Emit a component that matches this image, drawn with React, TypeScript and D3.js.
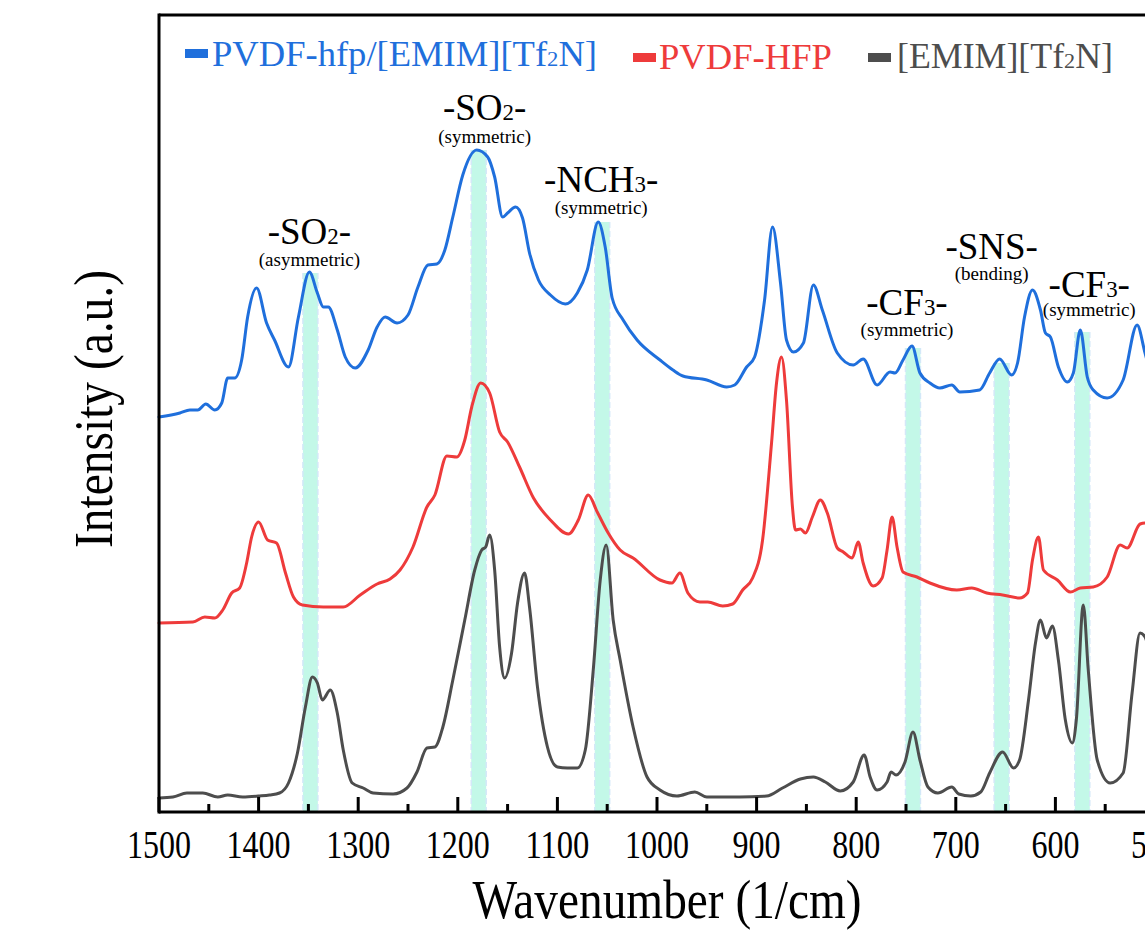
import React from "react";
import * as d3 from "d3";

// ---------- data ----------
const seriesNames = ["PVDF-hfp/[EMIM][Tf2N]", "PVDF-HFP", "[EMIM][Tf2N]"];
const seriesColors = ["#1f6fdc", "#ee3b3b", "#4d4d4d"];

// [wavenumber (1/cm), intensity (a.u., offset-stacked)]
const blueSpectrum: [number, number][] = [
  [1500, 395], [1479, 399], [1469, 402], [1461, 402], [1453, 408], [1444, 402], [1437, 409],
  [1431, 434], [1424, 434], [1417, 452], [1411, 495], [1402, 524], [1392, 489], [1384, 472],
  [1370, 445], [1360, 495], [1349, 540], [1341, 519], [1335, 505], [1330, 505], [1321, 482],
  [1313, 455], [1303, 444], [1290, 462], [1281, 485], [1273, 495], [1261, 489], [1250, 497],
  [1240, 525], [1230, 547], [1221, 548], [1213, 562], [1205, 595], [1195, 637], [1181, 662],
  [1170, 655], [1163, 635], [1155, 595], [1150, 599], [1142, 605], [1135, 594], [1128, 559],
  [1119, 532], [1107, 517], [1092, 508], [1080, 519], [1070, 542], [1059, 590], [1052, 565],
  [1045, 514], [1034, 492], [1020, 472], [997, 452], [984, 442], [974, 436], [950, 432],
  [930, 425], [922, 427], [910, 445], [902, 455], [892, 512], [884, 585], [876, 529],
  [870, 472], [863, 460], [853, 469], [843, 527], [834, 502], [819, 459], [803, 447],
  [793, 453], [779, 427], [766, 440], [761, 439], [753, 452], [744, 466], [736, 439],
  [726, 429], [716, 424], [704, 427], [696, 420], [676, 422], [666, 439], [656, 453],
  [644, 437], [638, 449], [631, 495], [623, 522], [615, 502], [610, 479], [605, 475],
  [597, 445], [588, 430], [582, 439], [575, 482], [568, 435], [562, 422], [548, 414],
  [532, 432], [518, 487], [510, 459], [505, 440], [500, 420],
];

const redSpectrum: [number, number][] = [
  [1500, 189], [1466, 190], [1454, 195], [1444, 194], [1436, 202], [1427, 219], [1419, 224],
  [1412, 249], [1407, 275], [1400, 290], [1391, 272], [1382, 269], [1373, 239], [1365, 215],
  [1356, 207], [1335, 205], [1315, 205], [1298, 217], [1281, 228], [1268, 233], [1258, 242],
  [1245, 265], [1231, 305], [1223, 317], [1211, 356], [1201, 355], [1193, 372], [1186, 405],
  [1177, 429], [1168, 419], [1158, 380], [1150, 370], [1138, 345], [1124, 314], [1107, 292],
  [1089, 278], [1079, 292], [1069, 317], [1060, 300], [1049, 279], [1037, 262], [1024, 254],
  [997, 232], [985, 229], [977, 239], [969, 219], [957, 210], [949, 210], [934, 206],
  [924, 208], [914, 222], [904, 234], [894, 272], [885, 369], [880, 429], [875, 455],
  [870, 412], [864, 305], [861, 282], [856, 283], [851, 279], [844, 295], [836, 312],
  [829, 299], [819, 264], [813, 260], [804, 254], [798, 270], [793, 249], [783, 226],
  [774, 234], [769, 262], [764, 295], [759, 265], [753, 240], [739, 235], [726, 229],
  [699, 222], [684, 224], [669, 219], [653, 217], [636, 214], [628, 219], [623, 252],
  [617, 275], [612, 242], [598, 232], [585, 220], [575, 224], [562, 225], [548, 235],
  [535, 267], [528, 264], [515, 288], [510, 289], [500, 285],
];

const graySpectrum: [number, number][] = [
  [1500, 14], [1486, 15], [1472, 19], [1456, 19], [1441, 15], [1431, 17], [1416, 15],
  [1399, 16], [1389, 17], [1379, 19], [1370, 29], [1361, 59], [1353, 105], [1346, 135],
  [1341, 129], [1336, 112], [1328, 122], [1321, 99], [1315, 62], [1306, 29], [1295, 24],
  [1285, 19], [1265, 18], [1251, 24], [1241, 40], [1231, 64], [1223, 65], [1215, 85],
  [1205, 132], [1193, 192], [1183, 242], [1176, 262], [1172, 265], [1168, 277], [1163, 242],
  [1158, 165], [1153, 134], [1146, 159], [1140, 209], [1133, 239], [1128, 205], [1120, 125],
  [1110, 65], [1100, 45], [1090, 44], [1080, 44], [1072, 62], [1064, 142], [1057, 232],
  [1051, 267], [1044, 192], [1037, 152], [1024, 85], [1010, 35], [997, 22], [980, 16],
  [962, 20], [950, 15], [917, 15], [890, 16], [874, 24], [856, 33], [843, 35], [831, 30],
  [816, 21], [803, 30], [792, 57], [786, 35], [779, 22], [769, 30], [765, 40], [760, 37],
  [751, 50], [743, 80], [736, 52], [728, 25], [718, 19], [704, 25], [697, 18], [685, 16],
  [675, 20], [666, 39], [653, 60], [642, 44], [636, 52], [627, 112], [620, 169], [615, 192],
  [609, 174], [603, 186], [597, 152], [590, 92], [583, 69], [579, 92], [572, 207],
  [567, 142], [558, 52], [545, 29], [532, 39], [523, 119], [515, 179], [510, 175], [500, 120],
];

// highlighted bands: center wavenumber, top (intensity)
const bandCenters = [1348, 1179, 1055, 743, 654, 573];
const bandTops = [539, 662, 590, 464, 449, 480];
const bandWidth = 15;

// peak annotations
const annoMain = ["-SO|2|-", "-SO|2|-", "-NCH|3|-", "-CF|3|-", "-SNS-", "-CF|3|-"];
const annoSub = ["(asymmetric)", "(symmetric)", "(symmetric)", "(symmetric)", "(bending)", "(symmetric)"];
const annoWn = [1349, 1173, 1056, 749, 664, 566];
const annoMainY = [568, 692, 620, 497, 553, 515];
const annoSubY = [546, 669, 598, 476, 532, 496];

const xTicksMajor = [1500, 1400, 1300, 1200, 1100, 1000, 900, 800, 700, 600, 500];
const xTicksMinor = [1450, 1350, 1250, 1150, 1050, 950, 850, 750, 650, 550];

const FONT = "'Liberation Serif', 'Times New Roman', serif";

function SubText({ s }: { s: string }) {
  const parts = s.split("|");
  return (
    <>
      {parts.map((p, i) =>
        i % 2 === 1 ? (
          <tspan key={i} fontSize="0.62em">{p}</tspan>
        ) : (
          <tspan key={i}>{p}</tspan>
        )
      )}
    </>
  );
}

export default function App() {
  const left = 159;
  const right = 1155;
  const top = 15;
  const bottom = 812;

  const x = d3.scaleLinear().domain([1500, 500]).range([left, right]);
  const y = d3.scaleLinear().domain([0, 797]).range([bottom, top]);

  const line = d3
    .line<[number, number]>()
    .x((d) => x(d[0]))
    .y((d) => y(d[1]))
    .curve(d3.curveMonotoneX);

  const spectra = [blueSpectrum, redSpectrum, graySpectrum];

  const legendItems = [
    { sx: 185, sy: 49, tx: 212, ty: 66, len: 385, label: "PVDF-hfp/[EMIM][Tf|2|N]" },
    { sx: 633, sy: 53, tx: 659, ty: 69, len: 173, label: "PVDF-HFP" },
    { sx: 868, sy: 53, tx: 897, ty: 68, len: 216, label: "[EMIM][Tf|2|N]" },
  ];

  return (
    <div style={{ position: "absolute", left: 0, top: 0, width: 1145, height: 931, overflow: "hidden", background: "#fff" }}>
      <svg width={1200} height={931} style={{ display: "block" }}>
        <rect x={0} y={0} width={1200} height={931} fill="#fff" />
        {/* bands */}
        {bandCenters.map((c, i) => {
          const x0 = x(c + bandWidth / 2);
          const x1 = x(c - bandWidth / 2);
          const yt = y(bandTops[i]);
          return (
            <g key={"b" + i}>
              <rect x={x0} y={yt} width={x1 - x0} height={bottom - yt} fill="#c3f8e8" />
              <line x1={x0} x2={x0} y1={yt} y2={bottom} stroke="#d3e8f8" strokeWidth={1.5} strokeDasharray="6,3" />
              <line x1={x1} x2={x1} y1={yt} y2={bottom} stroke="#d3e8f8" strokeWidth={1.5} strokeDasharray="6,3" />
            </g>
          );
        })}
        {/* spectra */}
        {spectra.map((s, i) => (
          <path
            key={"s" + i}
            d={line(s) || ""}
            fill="none"
            stroke={seriesColors[i]}
            strokeWidth={3}
            strokeLinejoin="round"
            strokeLinecap="round"
          />
        ))}
        {/* frame */}
        <line x1={left} x2={1200} y1={top} y2={top} stroke="#000" strokeWidth={3} />
        <line x1={left} x2={left} y1={top - 1.5} y2={bottom + 1.5} stroke="#000" strokeWidth={3} />
        <line x1={left} x2={1200} y1={bottom} y2={bottom} stroke="#000" strokeWidth={3} />
        {/* ticks */}
        {xTicksMajor.map((t) => (
          <g key={"t" + t}>
            <line x1={x(t)} x2={x(t)} y1={bottom} y2={bottom - 15} stroke="#000" strokeWidth={3} />
            <text
              x={x(t)}
              y={858}
              textAnchor="middle"
              fontFamily={FONT}
              fontSize={40}
              textLength={t >= 1000 ? 64 : 48}
              lengthAdjust="spacingAndGlyphs"
              fill="#000"
            >
              {t}
            </text>
          </g>
        ))}
        {xTicksMinor.map((t) => (
          <line key={"m" + t} x1={x(t)} x2={x(t)} y1={bottom} y2={bottom - 8} stroke="#000" strokeWidth={3} />
        ))}
        {/* axis titles */}
        <text
          x={667}
          y={918}
          textAnchor="middle"
          fontFamily={FONT}
          fontSize={54}
          textLength={389}
          lengthAdjust="spacingAndGlyphs"
          fill="#000"
        >
          Wavenumber (1/cm)
        </text>
        <text
          transform="translate(112,409) rotate(-90)"
          textAnchor="middle"
          fontFamily={FONT}
          fontSize={54}
          textLength={278}
          lengthAdjust="spacingAndGlyphs"
          fill="#000"
        >
          Intensity (a.u.)
        </text>
        {/* annotations */}
        {annoMain.map((m, i) => (
          <g key={"a" + i}>
            <text x={x(annoWn[i])} y={y(annoMainY[i])} textAnchor="middle" fontFamily={FONT} fontSize={37} fill="#000">
              <SubText s={m} />
            </text>
            <text x={x(annoWn[i])} y={y(annoSubY[i])} textAnchor="middle" fontFamily={FONT} fontSize={19} fill="#000">
              {annoSub[i]}
            </text>
          </g>
        ))}
        {/* legend */}
        {legendItems.map((it, i) => (
          <g key={"l" + i}>
            <rect x={it.sx} y={it.sy} width={23} height={9} fill={seriesColors[i]} />
            <text
              x={it.tx}
              y={it.ty}
              fontFamily={FONT}
              fontSize={35}
              fill={seriesColors[i]}
              textLength={it.len}
              lengthAdjust="spacingAndGlyphs"
            >
              <SubText s={it.label} />
            </text>
          </g>
        ))}
      </svg>
    </div>
  );
}
